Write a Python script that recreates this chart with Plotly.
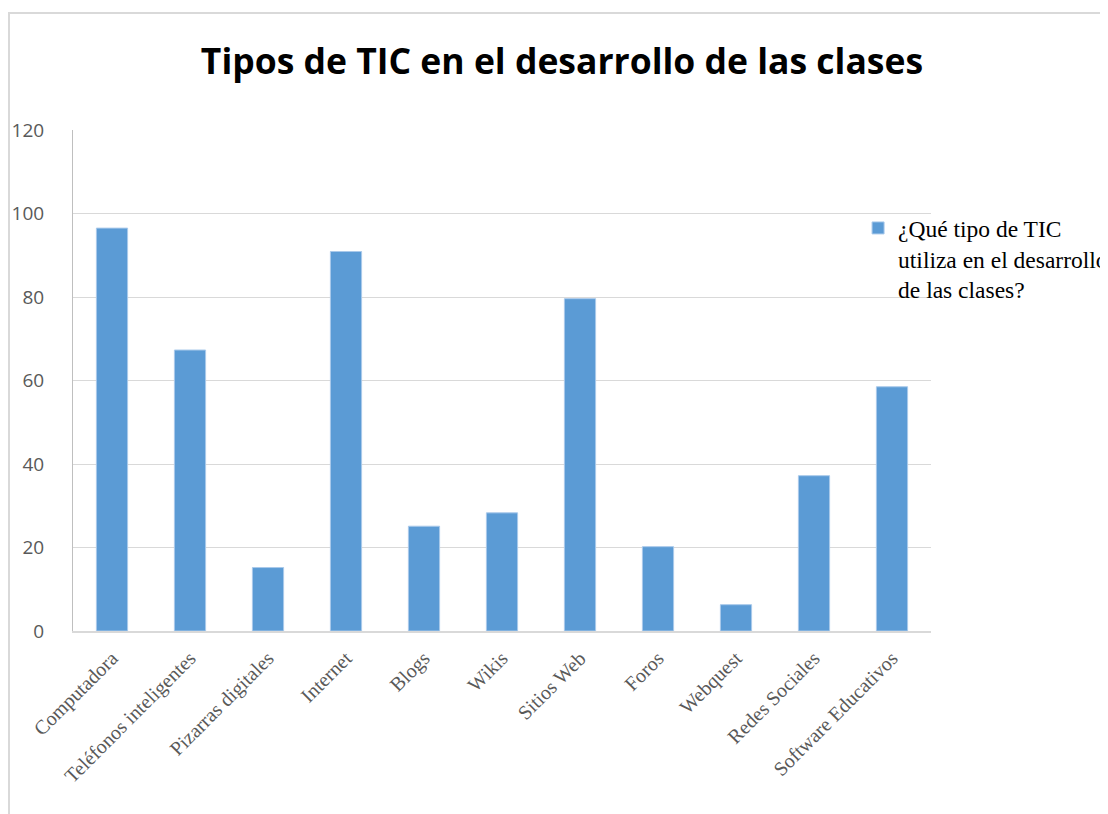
import plotly.graph_objects as go

# Categorías y valores
categorias = ['Computadora', 'Teléfonos inteligentes', 'Pizarras digitales', 'Internet',
              'Blogs', 'Wikis', 'Sitios Web', 'Foros', 'Webquest', 'Redes Sociales',
              'Software Educativos']
valores = [96.5, 67.3, 15.2, 90.9, 25.1, 28.3, 79.6, 20.2, 6.3, 37.2, 58.5]
serie = '¿Qué tipo de TIC<br>utiliza en el desarrollo<br>de las clases?'
y_ticks = [0, 20, 40, 60, 80, 100, 120]

fig = go.Figure()
fig.add_trace(go.Bar(
    x=categorias, y=valores, name=serie,
    marker=dict(color='#5B9BD5', line=dict(color='#A9C9EA', width=1)),
    showlegend=True
))

fig.update_layout(
    width=1108, height=814,
    margin=dict(l=65, r=185, t=122, b=191, autoexpand=False),
    paper_bgcolor='white', plot_bgcolor='white',
    bargap=0.6,
    title=dict(text='<b>Tipos de TIC en el desarrollo de las clases</b>',
               x=0.5, xanchor='center', y=0.934, yanchor='middle',
               font=dict(family='Open Sans', size=35.5, color='black')),
    legend=dict(x=0.915, y=0.848, xanchor='left', yanchor='top', valign='top',
                font=dict(family='Liberation Serif', size=23.5, color='black'),
                bgcolor='rgba(0,0,0,0)', itemwidth=30, tracegroupgap=0),
    shapes=[dict(type='rect', xref='paper', yref='paper',
                 x0=-0.0746, x1=1.3, y0=-0.5, y1=1.2335,
                 line=dict(color='#D9D9D9', width=2), layer='below')],
)

fig.update_yaxes(range=[0, 120], tickvals=y_ticks, showgrid=True, gridcolor='#D9D9D9',
                 gridwidth=1, zeroline=False, showline=True, linecolor='#BFBFBF',
                 ticks='outside', ticklen=24, tickcolor='rgba(0,0,0,0)', automargin=False,
                 tickfont=dict(family='Open Sans', size=19, color='#595959'))
fig.update_xaxes(tickangle=-45, showline=True, linecolor='#D9D9D9', linewidth=1.5,
                 ticks='outside', ticklen=6, tickcolor='rgba(0,0,0,0)', automargin=False,
                 tickfont=dict(family='Liberation Serif', size=20, color='#595959'))

fig.write_html("out.html")
